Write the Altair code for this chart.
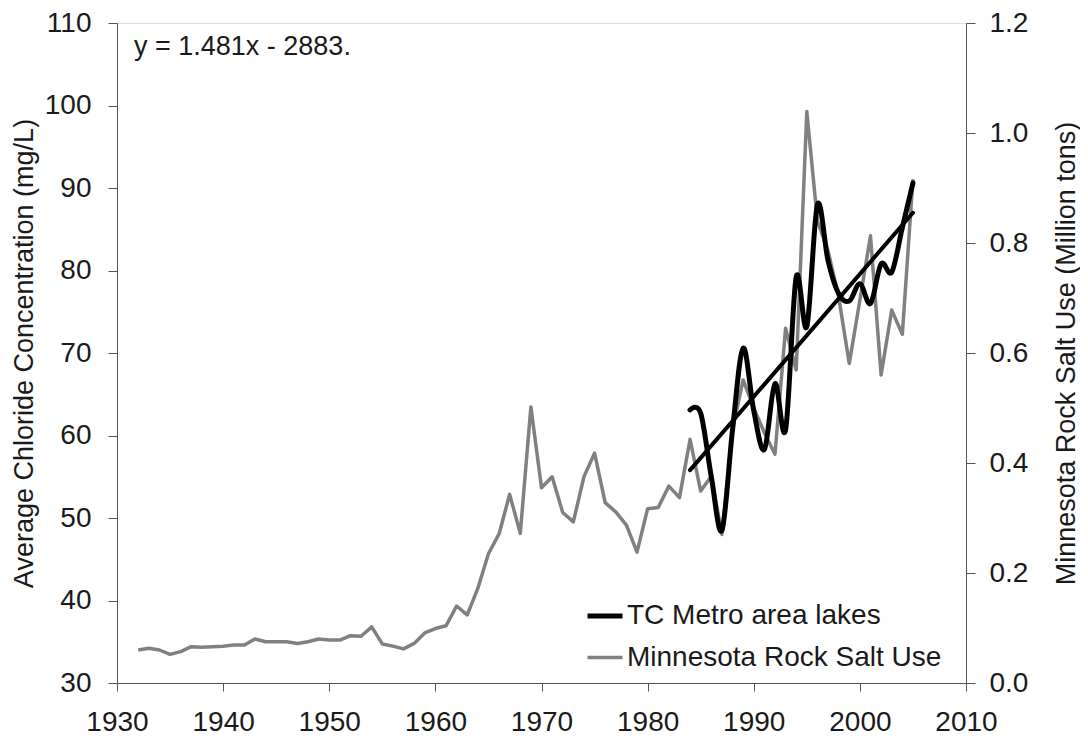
import altair as alt
import pandas as pd

# ---------------- data ----------------
salt_years = list(range(1932, 2006))
salt_use = [
    0.060, 0.063, 0.060, 0.052, 0.057, 0.066, 0.065, 0.066, 0.067, 0.069,
    0.069, 0.080, 0.075, 0.075, 0.075, 0.072, 0.075, 0.080, 0.078, 0.078,
    0.086, 0.085, 0.102, 0.071, 0.067, 0.062, 0.072, 0.091, 0.099, 0.104,
    0.140, 0.124, 0.172, 0.235, 0.271, 0.343, 0.272, 0.502, 0.355, 0.375,
    0.310, 0.293, 0.375, 0.418, 0.328, 0.311, 0.287, 0.238, 0.317, 0.319,
    0.358, 0.337, 0.443, 0.349, 0.376, 0.270, 0.460, 0.551, 0.500, 0.455,
    0.416, 0.645, 0.569, 1.039, 0.840, 0.786, 0.702, 0.581, 0.696, 0.813,
    0.560, 0.678, 0.634, 0.916,
]

lake_years = list(range(1984, 2006))
lake_chloride = [
    63.1, 62.7, 55.0, 48.5, 60.7, 70.6, 63.0, 58.3, 66.3, 60.7, 79.2,
    73.2, 88.0, 81.2, 77.2, 76.3, 78.4, 76.0, 80.8, 79.8, 85.2, 90.6,
]

trend_years = [1984, 2005]
trend_values = [55.8, 87.0]

series_names = ["TC Metro area lakes", "Minnesota Rock Salt Use"]
equation_text = ["y = 1.481x - 2883."]
equation_year = [1931.6]
equation_value = [107.1]

x_ticks = list(range(1930, 2011, 10))
left_ticks = list(range(30, 111, 10))
right_ticks = [0.0, 0.2, 0.4, 0.6, 0.8, 1.0, 1.2]

FONT = "Liberation Sans"
TXT = "#1a1a1a"
AX = "#555555"

salt_df = pd.DataFrame({"year": salt_years, "value": salt_use,
                        "series": series_names[1]})
lake_df = pd.DataFrame({"year": lake_years, "value": lake_chloride,
                        "series": series_names[0]})
trend_df = pd.DataFrame({"year": trend_years, "value": trend_values})
eq_df = pd.DataFrame({"year": equation_year, "value": equation_value,
                      "label": equation_text})

x_enc = alt.X(
    "year:Q",
    scale=alt.Scale(domain=[1930, 2010], nice=False, zero=False),
    axis=alt.Axis(values=x_ticks, format="d", title=None, grid=False,
                  labelFontSize=28, labelFont=FONT, labelColor=TXT,
                  tickSize=8, tickColor=AX, domainColor=AX,
                  labelPadding=17, labelFlush=False),
)

color_scale = alt.Scale(domain=series_names, range=["#000000", "#808080"])
width_scale = alt.Scale(domain=series_names, range=[5, 3.5])
legend = alt.Legend(
    title=None, orient="none", legendX=468, legendY=573,
    labelFontSize=28, labelFont=FONT, labelColor=TXT, labelLimit=500,
    symbolSize=1225, symbolType="stroke", labelOffset=2,
    rowPadding=8, padding=0,
)

left_scale = alt.Scale(domain=[30, 110], nice=False, zero=False)
left_axis = alt.Axis(
    orient="left", values=left_ticks, grid=False,
    title="Average Chloride Concentration (mg/L)",
    titleFontSize=27, titleFont=FONT, titleFontWeight="normal",
    titleColor=TXT, titlePadding=6,
    labelFontSize=28, labelFont=FONT, labelColor=TXT,
    tickSize=9, tickColor=AX, domainColor=AX, labelPadding=17,
)
right_axis = alt.Axis(
    orient="right", values=right_ticks, format=".1f", grid=False,
    title="Minnesota Rock Salt Use (Million tons)",
    titleFontSize=27, titleFont=FONT, titleFontWeight="normal",
    titleColor=TXT, titlePadding=26, titleAngle=270, titleBaseline="top",
    labelFontSize=28, labelFont=FONT, labelColor=TXT,
    tickSize=9, tickColor=AX, domainColor=AX, labelPadding=14,
)

salt_line = alt.Chart(salt_df).mark_line(strokeJoin="round").encode(
    x=x_enc,
    y=alt.Y("value:Q", scale=alt.Scale(domain=[0, 1.2], nice=False),
            axis=right_axis),
    color=alt.Color("series:N", scale=color_scale, legend=legend),
    strokeWidth=alt.StrokeWidth("series:N", scale=width_scale, legend=legend),
)

lake_line = alt.Chart(lake_df).mark_line(interpolate="cardinal",
                                         strokeCap="round").encode(
    x=x_enc,
    y=alt.Y("value:Q", scale=left_scale, axis=left_axis),
    color=alt.Color("series:N", scale=color_scale, legend=legend),
    strokeWidth=alt.StrokeWidth("series:N", scale=width_scale, legend=legend),
)

trend_line = alt.Chart(trend_df).mark_line(color="black", strokeWidth=4,
                                           strokeCap="round").encode(
    x=x_enc,
    y=alt.Y("value:Q", scale=left_scale, axis=left_axis),
)

eq_text = alt.Chart(eq_df).mark_text(
    align="left", baseline="middle", fontSize=27, font=FONT, color=TXT,
).encode(
    x=x_enc,
    y=alt.Y("value:Q", scale=left_scale, axis=left_axis),
    text="label:N",
)

left_group = alt.layer(lake_line, trend_line, eq_text)

chart = alt.layer(salt_line, left_group).resolve_scale(
    y="independent"
).properties(
    width=849, height=660,
    autosize=alt.AutoSizeParams(type="none"),
    padding={"left": 109, "top": 15, "right": 114, "bottom": 53},
).configure_view(
    stroke="#8a8a8a", strokeWidth=1.5,
).configure(background="white")

chart.save("out.html", embed_options={"renderer": "svg", "actions": False})
